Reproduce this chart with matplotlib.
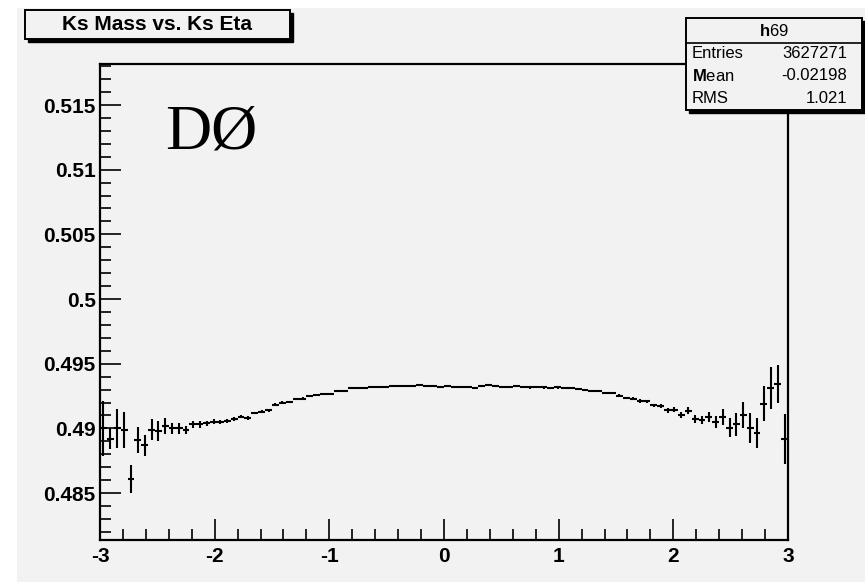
import numpy as np
import matplotlib
matplotlib.use("Agg")
import matplotlib.pyplot as plt
from matplotlib.patches import Rectangle
from matplotlib.lines import Line2D

plt.rcParams['font.family'] = ['Liberation Sans', 'DejaVu Sans']
plt.rcParams['mathtext.fontset'] = 'custom'
plt.rcParams['mathtext.rm'] = 'Liberation Sans'
plt.rcParams['mathtext.bf'] = 'Liberation Sans:bold'

# ---- data (profile of Ks mass vs Ks eta, 100 bins in [-3, 3]) ----
eta_min, eta_max, n_bins = -3.0, 3.0, 100
mass = [
    0.4900, 0.4892, 0.4900, 0.4899, 0.4861, 0.4891, 0.4887, 0.4899, 0.4898, 0.4902,
    0.4900, 0.4900, 0.4899, 0.4903, 0.4903, 0.4904, 0.4905, 0.4905, 0.4906, 0.4907,
    0.4909, 0.4908, 0.4912, 0.4913, 0.4914, 0.49184, 0.49200, 0.49205, 0.49226, 0.49230,
    0.49252, 0.49256, 0.49265, 0.49268, 0.49286, 0.49290, 0.49310, 0.49313, 0.49314, 0.49318,
    0.49320, 0.49323, 0.49325, 0.49324, 0.49326, 0.49325, 0.49337, 0.49325, 0.49324, 0.49323,
    0.49325, 0.49323, 0.49322, 0.49318, 0.49312, 0.49330, 0.49332, 0.49330, 0.49320, 0.49322,
    0.49330, 0.49318, 0.49316, 0.49317, 0.49316, 0.49315, 0.49316, 0.49314, 0.49313, 0.49302,
    0.49298, 0.49289, 0.49287, 0.49274, 0.49272, 0.49254, 0.49234, 0.49230, 0.49212, 0.49208,
    0.49178, 0.49174, 0.49140, 0.49145, 0.49103, 0.49138, 0.49074, 0.49062, 0.49088, 0.49049,
    0.49088, 0.49005, 0.49031, 0.49101, 0.49005, 0.48963, 0.49192, 0.49309, 0.49342, 0.48920,
]
mass_err = [
    0.0021, 0.0008, 0.0015, 0.0014, 0.0011, 0.0010, 0.0008, 0.0008, 0.0008, 0.0006,
    0.00045, 0.00045, 0.0003, 0.00027, 0.00025, 0.0002, 0.0002, 0.00018, 0.00016, 0.00015,
    0.00013, 0.00012, 0.0001, 0.0001, 0.0001, 0.0001, 0.00009, 0.00009, 0.00009, 0.00009,
    0.00008, 0.00008, 0.00008, 0.00008, 0.00008, 0.00008, 0.00008, 0.00008, 0.00008, 0.00008,
    0.00008, 0.00008, 0.00008, 0.00008, 0.00008, 0.00008, 0.00008, 0.00008, 0.00008, 0.00008,
    0.00008, 0.00008, 0.00008, 0.00008, 0.00008, 0.00008, 0.00008, 0.00008, 0.00008, 0.00008,
    0.00008, 0.00008, 0.00008, 0.00008, 0.00008, 0.00008, 0.00008, 0.00008, 0.00008, 0.00009,
    0.00009, 0.00009, 0.00009, 0.0001, 0.0001, 0.0001, 0.0001, 0.00011, 0.00012, 0.00012,
    0.00014, 0.00015, 0.00018, 0.0002, 0.00025, 0.00028, 0.0003, 0.0003, 0.0004, 0.00045,
    0.0006, 0.00074, 0.0009, 0.0010, 0.00117, 0.00117, 0.00137, 0.00163, 0.00147, 0.00194,
]
y_ticks = [0.485, 0.49, 0.495, 0.5, 0.505, 0.51, 0.515]
y_tick_labels = ['0.485', '0.49', '0.495', '0.5', '0.505', '0.51', '0.515']
x_ticks = [-3, -2, -1, 0, 1, 2, 3]
x_tick_labels = ['-3', '-2', '-1', '0', '1', '2', '3']
title = 'Ks Mass vs. Ks Eta'
stats_name = 'h69'
stats_rows = [('Entries', '3627271'), ('Mean', '-0.02198'), ('RMS', '1.021')]

W, H = 865, 582
BG = '#f2f2f2'
fig = plt.figure(figsize=(W / 100, H / 100), dpi=100, facecolor='white')

def fx(px):
    return px / W

def fy(py):
    return 1 - py / H

# grey canvas (thin white margin at top/left as in the reference)
fig.patches.append(Rectangle((fx(17), 0), 1, fy(8), transform=fig.transFigure,
                             facecolor=BG, edgecolor='none', zorder=-10))

ax = fig.add_axes([fx(100), fy(540), fx(788) - fx(100), fy(64) - fy(540)])
ax.set_facecolor(BG)

edges = np.linspace(eta_min, eta_max, n_bins + 1)
centers = 0.5 * (edges[:-1] + edges[1:])
half_w = 0.5 * (edges[1] - edges[0])
ax.errorbar(centers, mass, xerr=half_w, yerr=mass_err, fmt='none',
            ecolor='black', elinewidth=1.5, capsize=0, zorder=3)

ax.set_xlim(eta_min, eta_max)
ax.set_ylim(0.48137, 0.51817)
ax.set_xticks(x_ticks)
ax.set_xticklabels(x_tick_labels)
ax.set_yticks(y_ticks)
ax.set_yticklabels(y_tick_labels)
ax.set_xticks(np.arange(-3, 3.001, 0.2), minor=True)
ax.set_yticks(np.arange(0.482, 0.5182, 0.001), minor=True)
ax.tick_params(which='both', direction='in', top=False, right=False, width=1.2, color='black')
ax.tick_params(which='major', length=15)
ax.tick_params(which='minor', length=8)
ax.tick_params(axis='y', pad=3)
ax.tick_params(axis='x', pad=5)
for lab in ax.get_xticklabels() + ax.get_yticklabels():
    lab.set_fontweight('bold')
    lab.set_fontsize(15)
for sp in ax.spines.values():
    sp.set_linewidth(1.6)
    sp.set_color('black')

# DØ label
fig.text(fx(165), fy(149), 'DØ', family=['Liberation Serif', 'DejaVu Serif'],
         fontsize=46, ha='left', va='baseline', color='black')

# title box with shadow
def box(x0, y0, x1, y1, shadow=3, lw=1.4):
    fig.patches.append(Rectangle((fx(x0 + shadow), fy(y1 + shadow)), fx(x1 - x0), fy(y0) - fy(y1),
                                 transform=fig.transFigure, facecolor='black',
                                 edgecolor='black', zorder=5))
    fig.patches.append(Rectangle((fx(x0), fy(y1)), fx(x1 - x0), fy(y0) - fy(y1),
                                 transform=fig.transFigure, facecolor=BG,
                                 edgecolor='black', linewidth=lw, zorder=6))

box(25, 10, 290, 39)
fig.text(fx(157), fy(25), title, fontsize=15, fontweight='bold',
         ha='center', va='center', zorder=7)

# stats box
box(686, 18, 862, 110, shadow=3)
fig.lines.append(Line2D([fx(686), fx(862)], [fy(43), fy(43)], transform=fig.transFigure,
                        color='black', linewidth=1.2, zorder=7))
fig.text(fx(774), fy(31), r'$\mathbf{h}$69', fontsize=12, ha='center', va='center', zorder=7)
row_y = [53, 76, 98]
labels_fmt = ['Entries', r'$\mathbf{M}$ean', 'RMS']
for (name, val), yy, lf in zip(stats_rows, row_y, labels_fmt):
    fig.text(fx(692), fy(yy), lf, fontsize=12, ha='left', va='center', zorder=7)
    fig.text(fx(847), fy(yy), val, fontsize=12, ha='right', va='center', zorder=7)

fig.savefig('out.png', dpi=100, facecolor=fig.get_facecolor())
